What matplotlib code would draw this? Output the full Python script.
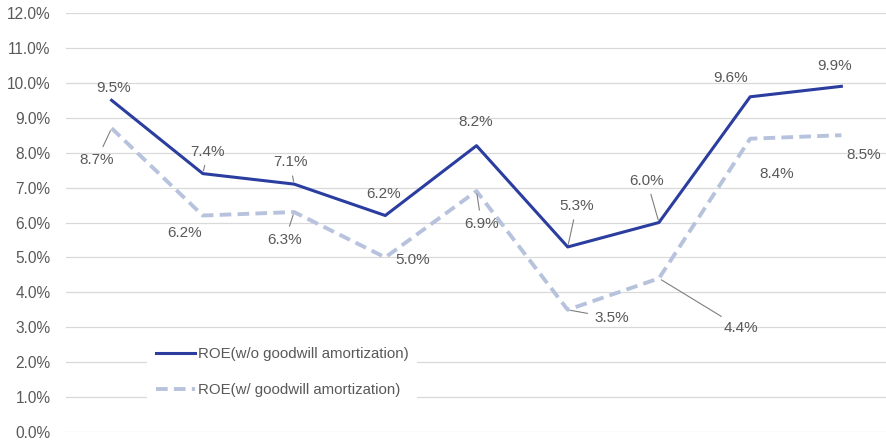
import matplotlib.pyplot as plt
from matplotlib.ticker import PercentFormatter

plt.rcParams['font.family'] = ['Liberation Sans', 'DejaVu Sans']

# data (ROE, %)
periods = list(range(9))
roe_wo = [9.5, 7.4, 7.1, 6.2, 8.2, 5.3, 6.0, 9.6, 9.9]
roe_w = [8.7, 6.2, 6.3, 5.0, 6.9, 3.5, 4.4, 8.4, 8.5]
label_wo = "ROE(w/o goodwill amortization)"
label_w = "ROE(w/ goodwill amortization)"

# label offsets in pixels (dx, dy) and whether a leader line is drawn
offs_wo = [(2, 12), (5, 22), (-4, 22), (-2, 22), (-1, 24), (9, 41), (-12, 42), (-20, 19), (-7, 20)]
lead_wo = [False, True, True, False, False, True, True, False, False]
offs_w = [(-15, -32), (-18, -17), (-9, -28), (27, -3), (5, -33), (44, -8), (82, -50), (27, -35), (22, -20)]
lead_w = [True, False, True, False, True, True, True, False, False]

dark = '#2B3D9F'
light = '#B7C3DD'
txt = '#595959'

fig = plt.figure(figsize=(8.87, 4.42), dpi=100)
ax = fig.add_axes([0.0744, 0.0226, 0.9256, 0.948])

ax.plot(periods, roe_wo, color=dark, lw=2.2, label=label_wo, zorder=3)
ax.plot(periods, roe_w, color=light, lw=2.8, ls=(0, (3, 1.6)), label=label_w, zorder=2)

def annotate(vals, offs, leads):
    for x, v, (dx, dy), ld in zip(periods, vals, offs, leads):
        ap = None
        if ld:
            ap = dict(arrowstyle='-', color='#7F7F7F', lw=0.8, shrinkA=3, shrinkB=2)
        ax.annotate(f"{v:.1f}%", (x, v), xytext=(dx, dy), textcoords='offset pixels',
                    ha='center', va='center', fontsize=11, color=txt, arrowprops=ap, zorder=4)

annotate(roe_wo, offs_wo, lead_wo)
annotate(roe_w, offs_w, lead_w)

ax.set_xlim(-0.5, 8.5)
ax.set_ylim(0, 12)
ax.set_yticks(range(0, 13))
ax.yaxis.set_major_formatter(PercentFormatter(decimals=1))
ax.set_xticks([])
ax.grid(axis='y', color='#D9D9D9', lw=0.9)
ax.set_axisbelow(True)
for s in ax.spines.values():
    s.set_visible(False)
ax.tick_params(axis='y', length=0, labelsize=11.2, labelcolor=txt, pad=11)

leg = ax.legend(loc='center', bbox_to_anchor=(0.263, 0.143), frameon=True, fontsize=10.8,
                handlelength=2.6, handletextpad=0.2, labelspacing=1.5, borderpad=0.6)
leg.get_frame().set_facecolor('white')
leg.get_frame().set_edgecolor('none')
leg.get_frame().set_alpha(1)
for t in leg.get_texts():
    t.set_color(txt)

fig.savefig('out.png', dpi=100)
